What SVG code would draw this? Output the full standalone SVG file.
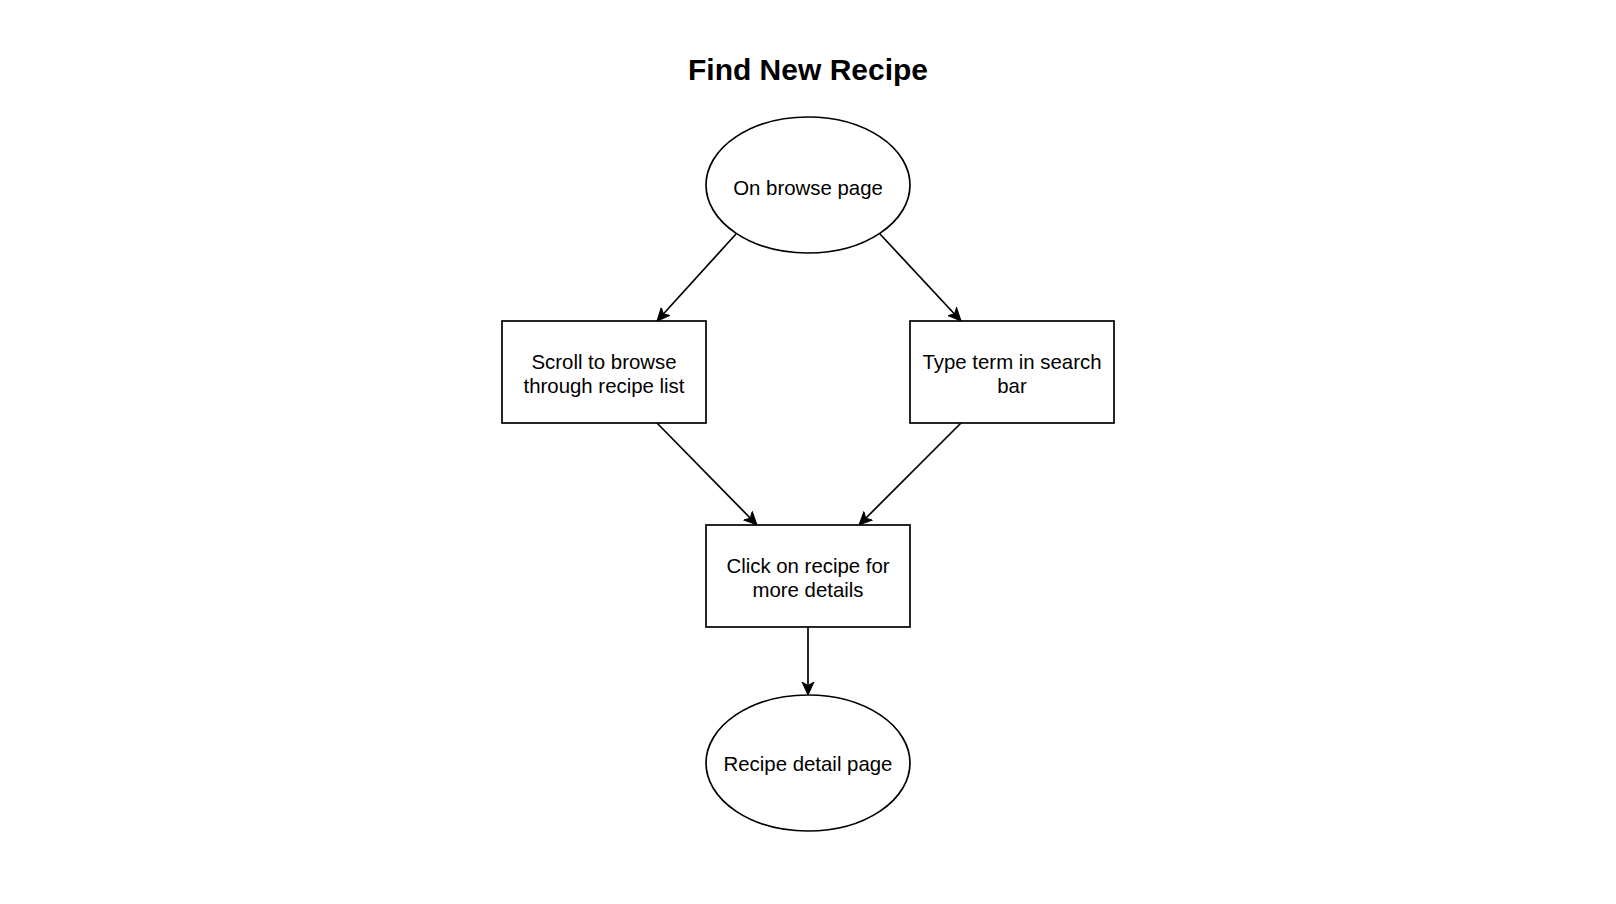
<svg xmlns="http://www.w3.org/2000/svg" width="1616" height="904" viewBox="0 0 1616 904">
<style>
.shape{fill:#ffffff;stroke:#000000;stroke-width:1.7}
.lbl{font-family:"Liberation Sans",Arial,Helvetica,sans-serif;font-size:20.4px;fill:#000000;text-anchor:middle}
.title{font-family:"Liberation Sans",Arial,Helvetica,sans-serif;font-size:30px;font-weight:bold;fill:#000000;text-anchor:middle}
.edge{fill:none;stroke:#000000;stroke-width:1.7}
</style>
<defs>
<marker id="arrow" markerUnits="userSpaceOnUse" markerWidth="16" markerHeight="14" refX="13" refY="6" orient="auto" viewBox="0 0 16 12">
<path d="M0,0 L13,6 L0,12 L3.5,6 Z" fill="#000000" stroke="#000000" stroke-width="1"/>
</marker>
</defs>
<rect width="1616" height="904" fill="#ffffff"/>
<text class="title" x="808" y="80">Find New Recipe</text>
<g id="connectors">
<line class="edge" x1="736" y1="234" x2="657" y2="321" marker-end="url(#arrow)"/>
<line class="edge" x1="880" y1="234" x2="961" y2="321" marker-end="url(#arrow)"/>
<line class="edge" x1="657" y1="423" x2="757" y2="525" marker-end="url(#arrow)"/>
<line class="edge" x1="961" y1="423" x2="859" y2="525" marker-end="url(#arrow)"/>
<line class="edge" x1="808" y1="627" x2="808" y2="695" marker-end="url(#arrow)"/>
</g>
<g id="node-browse">
<ellipse class="shape" cx="808" cy="185" rx="102" ry="68"/>
<text class="lbl" x="808" y="195">On browse page</text>
</g>
<g id="node-scroll">
<rect class="shape" x="502" y="321" width="204" height="102"/>
<text class="lbl" x="604" y="369">Scroll to browse</text>
<text class="lbl" x="604" y="393">through recipe list</text>
</g>
<g id="node-search">
<rect class="shape" x="910" y="321" width="204" height="102"/>
<text class="lbl" x="1012" y="369">Type term in search</text>
<text class="lbl" x="1012" y="393">bar</text>
</g>
<g id="node-click">
<rect class="shape" x="706" y="525" width="204" height="102"/>
<text class="lbl" x="808" y="573">Click on recipe for</text>
<text class="lbl" x="808" y="597">more details</text>
</g>
<g id="node-detail">
<ellipse class="shape" cx="808" cy="763" rx="102" ry="68"/>
<text class="lbl" x="808" y="771">Recipe detail page</text>
</g>
</svg>
